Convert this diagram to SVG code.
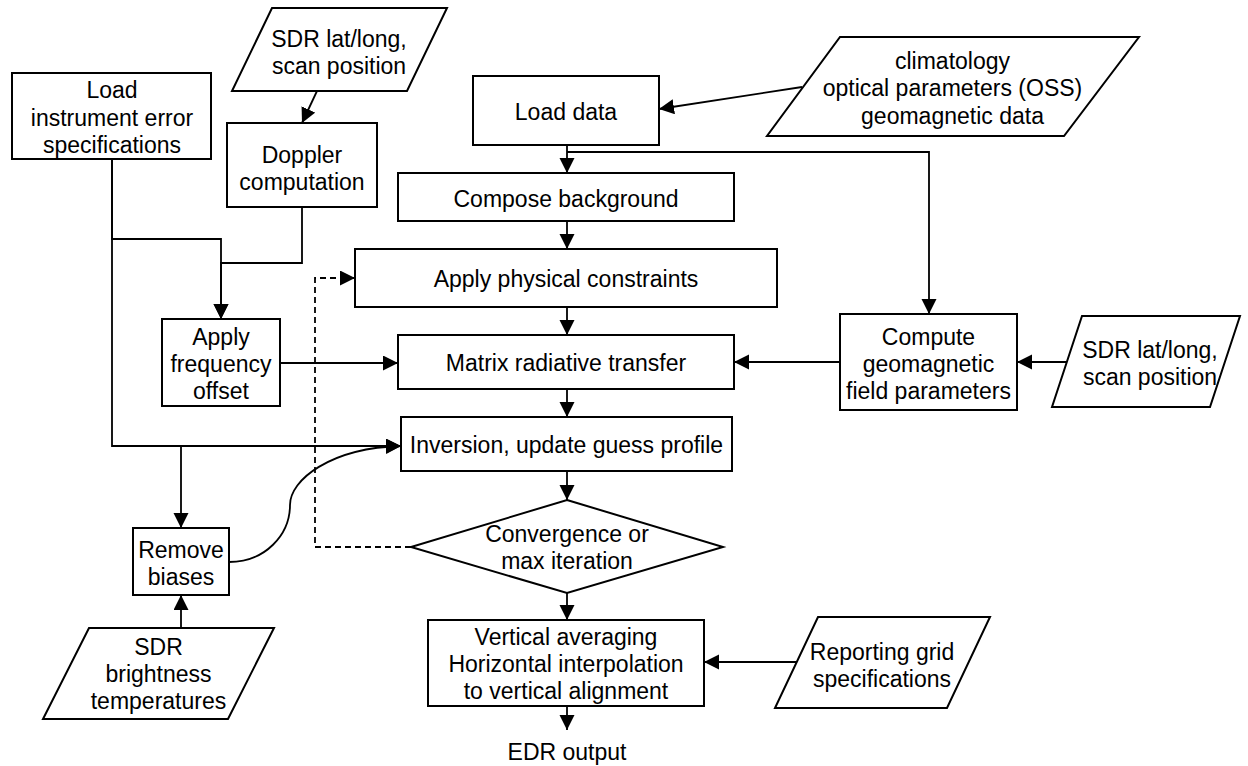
<svg xmlns="http://www.w3.org/2000/svg" width="1248" height="766" viewBox="0 0 1248 766">
  <style>
    .shape { fill: #fff; stroke: #000; stroke-width: 2; }
    .lbl { font-family: "Liberation Sans", Arial, sans-serif; font-size: 23px; fill: #000; text-anchor: middle; }
    .wire { fill: none; stroke: #000; stroke-width: 1.8; }
    .dash { fill: none; stroke: #000; stroke-width: 1.8; stroke-dasharray: 6 4; }
  </style>
  <defs>
    <marker id="arrow" markerUnits="userSpaceOnUse" markerWidth="16" markerHeight="16" refX="15" refY="7.5" orient="auto">
      <path d="M0,0 L15,7.5 L0,15 z" fill="#000"/>
    </marker>
  </defs>
  <rect width="1248" height="766" fill="#fff"/>

  <!-- connectors -->
  <g id="connectors">
    <path class="wire" d="M317,91 L302,123" marker-end="url(#arrow)"/>
    <path class="wire" d="M112,159 L112,239 L221,239 L221,319" marker-end="url(#arrow)"/>
    <path class="wire" d="M302,207 L302,263 L221,263 L221,319" marker-end="url(#arrow)"/>
    <path class="wire" d="M112,159 L112,446 L401,446" marker-end="url(#arrow)"/>
    <path class="wire" d="M112,446 L181,446 L181,528" marker-end="url(#arrow)"/>
    <path class="wire" d="M280,363 L398,363" marker-end="url(#arrow)"/>
    <path class="wire" d="M567,145 L567,173" marker-end="url(#arrow)"/>
    <path class="wire" d="M567,152 L929,152 L929,314" marker-end="url(#arrow)"/>
    <path class="wire" d="M802,87 L659,109" marker-end="url(#arrow)"/>
    <path class="wire" d="M567,221 L567,249" marker-end="url(#arrow)"/>
    <path class="wire" d="M567,307 L567,335" marker-end="url(#arrow)"/>
    <path class="wire" d="M840,362 L734,362" marker-end="url(#arrow)"/>
    <path class="wire" d="M1067,362 L1017,362" marker-end="url(#arrow)"/>
    <path class="wire" d="M567,389 L567,417" marker-end="url(#arrow)"/>
    <path class="wire" d="M229,562 C265,562 290,535 290,505 C290,480 330,448 401,446" marker-end="url(#arrow)"/>
    <path class="wire" d="M567,471 L567,500" marker-end="url(#arrow)"/>
    <path class="dash" d="M411,547 L315,547 L315,278 L355,278" marker-end="url(#arrow)"/>
    <path class="wire" d="M567,593 L567,620" marker-end="url(#arrow)"/>
    <path class="wire" d="M797,662 L704,662" marker-end="url(#arrow)"/>
    <path class="wire" d="M567,706 L567,730" marker-end="url(#arrow)"/>
    <path class="wire" d="M181,628 L181,595" marker-end="url(#arrow)"/>
  </g>

  <!-- input: SDR lat/long (top) -->
  <g id="sdr-latlong-top">
    <polygon class="shape" points="272,8 447,8 407,91 232,91"/>
    <text class="lbl" x="339" y="46.5">SDR lat/long,</text>
    <text class="lbl" x="339" y="73.5">scan position</text>
  </g>

  <g id="load-instrument">
    <rect class="shape" x="12" y="73" width="199" height="86"/>
    <text class="lbl" x="112" y="98">Load</text>
    <text class="lbl" x="112" y="125.5">instrument error</text>
    <text class="lbl" x="112" y="152.5">specifications</text>
  </g>

  <g id="doppler">
    <rect class="shape" x="227" y="123" width="150" height="84"/>
    <text class="lbl" x="302" y="163">Doppler</text>
    <text class="lbl" x="302" y="190">computation</text>
  </g>

  <g id="apply-frequency">
    <rect class="shape" x="162" y="319" width="118" height="87"/>
    <text class="lbl" x="221" y="345">Apply</text>
    <text class="lbl" x="221" y="372">frequency</text>
    <text class="lbl" x="221" y="399">offset</text>
  </g>

  <g id="remove-biases">
    <rect class="shape" x="133" y="528" width="96" height="67"/>
    <text class="lbl" x="181" y="557.5">Remove</text>
    <text class="lbl" x="181" y="584.5">biases</text>
  </g>

  <g id="sdr-brightness">
    <polygon class="shape" points="89,628 274,628 228,719 43,719"/>
    <text class="lbl" x="158.5" y="655">SDR</text>
    <text class="lbl" x="158.5" y="682">brightness</text>
    <text class="lbl" x="158.5" y="709">temperatures</text>
  </g>

  <g id="load-data">
    <rect class="shape" x="473" y="76" width="186" height="69"/>
    <text class="lbl" x="566" y="120">Load data</text>
  </g>

  <g id="climatology">
    <polygon class="shape" points="840,37 1139,37 1064,136 767,136"/>
    <text class="lbl" x="952.5" y="68.5">climatology</text>
    <text class="lbl" x="952.5" y="96">optical parameters (OSS)</text>
    <text class="lbl" x="952.5" y="123.5">geomagnetic data</text>
  </g>

  <g id="compose-background">
    <rect class="shape" x="398" y="173" width="336" height="48"/>
    <text class="lbl" x="566" y="206.5">Compose background</text>
  </g>

  <g id="apply-constraints">
    <rect class="shape" x="355" y="249" width="422" height="58"/>
    <text class="lbl" x="566" y="287">Apply physical constraints</text>
  </g>

  <g id="matrix-rt">
    <rect class="shape" x="398" y="335" width="336" height="54"/>
    <text class="lbl" x="566" y="371">Matrix radiative transfer</text>
  </g>

  <g id="compute-geomagnetic">
    <rect class="shape" x="840" y="314" width="177" height="96"/>
    <text class="lbl" x="928.5" y="344.5">Compute</text>
    <text class="lbl" x="928.5" y="371.5">geomagnetic</text>
    <text class="lbl" x="928.5" y="398.5">field parameters</text>
  </g>

  <g id="sdr-latlong-right">
    <polygon class="shape" points="1082,316 1240,316 1210,407 1052,407"/>
    <text class="lbl" x="1150" y="357.5">SDR lat/long,</text>
    <text class="lbl" x="1150" y="385">scan position</text>
  </g>

  <g id="inversion">
    <rect class="shape" x="401" y="417" width="331" height="54"/>
    <text class="lbl" x="566.5" y="453">Inversion, update guess profile</text>
  </g>

  <g id="convergence">
    <polygon class="shape" points="567,500 723,547 567,593 411,547"/>
    <text class="lbl" x="567" y="541.5">Convergence or</text>
    <text class="lbl" x="567" y="568.5">max iteration</text>
  </g>

  <g id="vertical-averaging">
    <rect class="shape" x="428" y="620" width="276" height="86"/>
    <text class="lbl" x="566" y="645">Vertical averaging</text>
    <text class="lbl" x="566" y="672">Horizontal interpolation</text>
    <text class="lbl" x="566" y="699">to vertical alignment</text>
  </g>

  <g id="reporting-grid">
    <polygon class="shape" points="818,617 990,617 947,708 775,708"/>
    <text class="lbl" x="882" y="660">Reporting grid</text>
    <text class="lbl" x="882" y="687">specifications</text>
  </g>

  <g id="edr-output">
    <text class="lbl" x="567" y="760">EDR output</text>
  </g>
</svg>
